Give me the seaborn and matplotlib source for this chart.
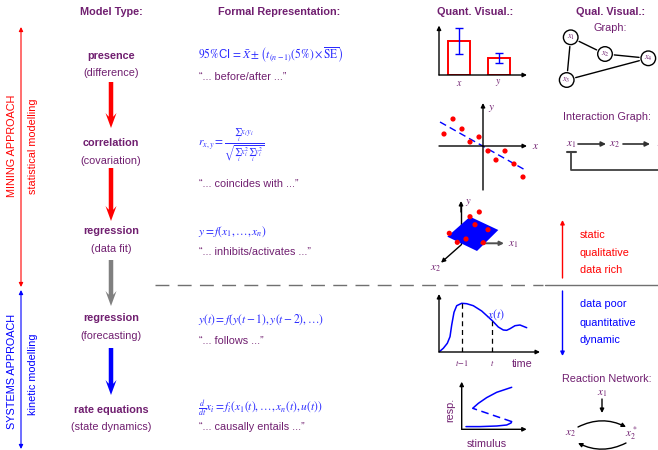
import numpy as np
import matplotlib
matplotlib.use("Agg")
import matplotlib.pyplot as plt
import seaborn as sns
from matplotlib.patches import Circle, Polygon

# ------------------------------------------------------------------ data
headers = ["Model Type:", "Formal Representation:", "Quant. Visual.:", "Qual. Visual.:"]
model_types = ["presence", "correlation", "regression", "regression", "rate equations"]
model_subs = ["(difference)", "(covariation)", "(data fit)", "(forecasting)", "(state dynamics)"]
formulas = [
    r"$95\%$CI$\, = \bar{X} \pm \left(t_{(n-1)}(5\%) \times \overline{\mathrm{SE}}\right)$",
    r"$r_{x,y} = \frac{\sum_i x_i y_i}{\sqrt{\sum_i x_i^2 \sum_i y_i^2}}$",
    r"$y = f(x_1,\ldots,x_n)$",
    r"$y(t) = f\left(y(t-1),y(t-2),\ldots\right)$",
    r"$\frac{d}{dt}x_i = f_i\left(x_1(t),\ldots,x_n(t),u(t)\right)$",
]
phrases = ["\u201c... before/after ...\u201d", "\u201c... coincides with ...\u201d",
           "\u201c... inhibits/activates ...\u201d", "\u201c... follows ...\u201d",
           "\u201c... causally entails ...\u201d"]
side_labels = ["MINING APPROACH", "statistical modelling", "SYSTEMS APPROACH", "kinetic modelling"]
static_words = ["static", "qualitative", "data rich"]
dynamic_words = ["data poor", "quantitative", "dynamic"]

# bar chart (presence)
bar_cats = ["x", "y"]
bar_vals = [2.0, 1.0]
bar_errs = [0.76, 0.27]

# scatter (correlation)
scatter_x = [-3.9, -3.0, -2.1, -1.3, -0.4, 0.5, 1.3, 2.2, 3.1, 4.0]
scatter_y = [1.2, 2.7, 1.7, 0.4, 0.9, -0.5, -1.4, -0.5, -1.8, -3.1]
fit_x = [-4.3, 4.4]
fit_y = [2.4, -2.5]

# 3D regression sketch (pixel positions of the sketch)
plane_x = [447.3, 470.0, 498.3, 477.0]
plane_y = [236.7, 216.7, 230.0, 251.0]
pts3d_x = [470.0, 479.3, 475.0, 449.3, 488.0, 457.3, 466.0, 483.3]
pts3d_y = [216.7, 212.0, 224.7, 233.3, 229.7, 242.3, 239.0, 242.7]

# time series (forecasting)
ts_t = [0.0, 0.43, 0.83, 1.1, 1.27, 1.5, 1.77, 2.27, 2.77, 3.43, 4.27, 5.33,
        5.93, 6.43, 6.77, 7.1, 7.6, 8.1, 8.77]
ts_x = [0.0, 0.37, 0.87, 1.53, 2.7, 3.97, 4.63, 4.87, 4.83, 4.63, 4.1, 3.13,
        2.5, 2.2, 2.17, 2.33, 2.63, 2.7, 2.43]
t_marks = [2.27, 5.33]
t_levels = [4.87, 3.13]
t_labels = [r"$t\!-\!1$", r"$t$"]

# bistable response (rate equations)
bi_low_s = [0.43, 1.83, 3.5, 4.5, 4.93, 5.0]
bi_low_r = [0.27, 0.27, 0.33, 0.43, 0.63, 0.77]
bi_mid_s = [5.0, 1.1]
bi_mid_r = [0.77, 2.1]
bi_up_s = [1.1, 1.67, 2.5, 3.5, 5.0]
bi_up_r = [2.1, 2.6, 3.17, 3.7, 4.2]

# graph
nodes = {"x_1": (570.7, 37.3), "x_2": (605.0, 54.0), "x_3": (566.7, 80.0), "x_4": (648.3, 58.3)}
edges = [("x_1", "x_2"), ("x_1", "x_3"), ("x_2", "x_4"), ("x_3", "x_4")]

# ------------------------------------------------------------------ style
sns.set_style("white")
plt.rcParams["font.family"] = ["Liberation Sans", "DejaVu Sans"]
plt.rcParams["mathtext.fontset"] = "stix"

PURPLE = "#701f70"
FBLUE = "#2a2aff"
RED = "#ff0000"
BLUE = "#0000ff"
FS = 7.8
W, H = 658, 450

fig = plt.figure(figsize=(W / 100, H / 100), dpi=100)
ax = fig.add_axes([0, 0, 1, 1])
ax.set_xlim(0, W)
ax.set_ylim(H, 0)
ax.axis("off")


def inset(x0, y0, x1, y1):
    a = fig.add_axes([x0 / W, 1 - y1 / H, (x1 - x0) / W, (y1 - y0) / H])
    a.axis("off")
    return a


def axis_arrow(a, p, q, coords="axes fraction", color="black"):
    a.annotate("", xy=q, xytext=p, xycoords=coords, textcoords=coords,
               arrowprops=dict(arrowstyle="-|>", color=color, lw=1.0,
                               mutation_scale=6, shrinkA=0, shrinkB=0),
               annotation_clip=False)


# ------------------------------------------------------------------ headers
for txt, xc in zip(headers, [111, 279, 475, 611]):
    ax.text(xc, 12, txt, ha="center", va="center", fontsize=FS, fontweight="bold", color=PURPLE)

# ------------------------------------------------------------------ left side arrows
ax.annotate("", xy=(21, 27), xytext=(21, 287),
            arrowprops=dict(arrowstyle="<|-|>", color=RED, lw=0.8, mutation_scale=6,
                            shrinkA=0, shrinkB=0))
ax.annotate("", xy=(21, 290), xytext=(21, 449),
            arrowprops=dict(arrowstyle="<|-|>", color=BLUE, lw=0.8, mutation_scale=6,
                            shrinkA=0, shrinkB=0))
for txt, (xx, yy, c) in zip(side_labels, [(12, 146, RED), (33, 146, RED),
                                          (12, 371, BLUE), (33, 374, BLUE)]):
    ax.text(xx, yy, txt, rotation=90, ha="center", va="center", fontsize=FS, color=c)

# ------------------------------------------------------------------ model types
mt_y = [55.7, 142.7, 230.7, 318.3, 410.0]
ms_y = [72.7, 160.7, 249.0, 335.7, 427.3]
for t, s, y1, y2 in zip(model_types, model_subs, mt_y, ms_y):
    ax.text(111, y1, t, ha="center", va="center", fontsize=FS, fontweight="bold", color=PURPLE)
    ax.text(111, y2, s, ha="center", va="center", fontsize=FS, color=PURPLE)

for (ya, yb), c in zip([(82, 128), (168, 221), (260, 306), (348, 395)],
                       [RED, RED, "#808080", BLUE]):
    ax.arrow(111, ya, 0, yb - ya, width=4.5, head_width=11, head_length=15,
             length_includes_head=True, fc=c, ec="none", overhang=0.25)

# ------------------------------------------------------------------ formulas
f_y = [55.0, 145.0, 231.7, 319.3, 408.5]
p_y = [77.3, 184.0, 252.3, 340.7, 427.3]
for f, ph, y1, y2 in zip(formulas, phrases, f_y, p_y):
    ax.text(198, y1, f, ha="left", va="center", fontsize=8.3, color=FBLUE)
    ax.text(199, y2, ph, ha="left", va="center", fontsize=FS, color=PURPLE)

# separator
ax.plot([155, 543], [284.5, 284.5], color="#707070", lw=1.0, dashes=(10, 6))
ax.plot([545, W], [284.5, 284.5], color="#707070", lw=1.0)

# ------------------------------------------------------------------ bar chart
a1 = inset(439, 27, 527, 75)
sns.barplot(x=bar_cats, y=bar_vals, ax=a1, fill=False, color=RED, width=0.56,
            linewidth=1.4, errorbar=None)
a1.errorbar(x=[0, 1], y=bar_vals, yerr=bar_errs, fmt="none", ecolor=BLUE,
            capsize=3, elinewidth=1.0, capthick=1.0)
a1.set_xlim(-0.51, 1.72)
a1.set_ylim(0, 2.82)
a1.axis("off")
axis_arrow(a1, (0, 0), (1, 0))
axis_arrow(a1, (0, 0), (0, 1.03))
for i, c in enumerate(bar_cats):
    a1.text(i, -0.45, "$" + c + "$", ha="center", va="center", fontsize=7, color=PURPLE,
            clip_on=False)

# ------------------------------------------------------------------ scatter
a2 = inset(439, 103, 527, 190)
a2.set_xlim(-4.4, 4.4)
a2.set_ylim(-4.4, 4.3)
axis_arrow(a2, (-4.4, 0), (4.4, 0), coords="data")
axis_arrow(a2, (0, -4.4), (0, 4.3), coords="data")
sns.lineplot(x=fit_x, y=fit_y, ax=a2, color=BLUE, lw=1.0, dashes=False, linestyle=(0, (5, 3)))
sns.scatterplot(x=scatter_x, y=scatter_y, ax=a2, color=RED, s=14, edgecolor="none", zorder=5)
a2.set_xlim(-4.4, 4.4)
a2.set_ylim(-4.4, 4.3)
a2.axis("off")
a2.text(0.9, 3.8, "$y$", fontsize=8, color=PURPLE, ha="center", va="center", clip_on=False)
a2.text(5.3, 0.0, "$x$", fontsize=8, color=PURPLE, ha="center", va="center", clip_on=False)

# ------------------------------------------------------------------ 3D regression sketch
ax.plot([461, 461], [244, 203], color="black", lw=1.0)
ax.annotate("", xy=(461, 201), xytext=(461, 212),
            arrowprops=dict(arrowstyle="-|>", color="black", lw=1, mutation_scale=6,
                            shrinkA=0, shrinkB=0))
ax.add_patch(Polygon(np.column_stack([plane_x, plane_y]), closed=True, fc=BLUE, ec="none", zorder=3))
ax.annotate("", xy=(441, 262.7), xytext=(461, 245),
            arrowprops=dict(arrowstyle="-|>", color="black", lw=1, mutation_scale=6,
                            shrinkA=0, shrinkB=0), zorder=2)
ax.annotate("", xy=(504, 243.3), xytext=(481, 243.3),
            arrowprops=dict(arrowstyle="-|>", color="#505050", lw=1.4, mutation_scale=6,
                            shrinkA=0, shrinkB=0), zorder=4)
ax.scatter(pts3d_x, pts3d_y, s=14, color=RED, edgecolor="none", zorder=5)
ax.text(468, 202, "$y$", fontsize=7.5, color=PURPLE, ha="center", va="center")
ax.text(513, 245, "$x_1$", fontsize=8, color=PURPLE, ha="center", va="center")
ax.text(435, 269, "$x_2$", fontsize=8, color=PURPLE, ha="center", va="center")

# ------------------------------------------------------------------ time series
a3 = inset(439, 294, 540, 352)
sns.lineplot(x=ts_t, y=ts_x, ax=a3, color=BLUE, lw=1.1)
a3.vlines(t_marks, 0, t_levels, colors="black", linestyles=(0, (4, 3)), lw=0.9)
a3.set_xlim(0, 10.1)
a3.set_ylim(0, 5.8)
a3.axis("off")
axis_arrow(a3, (0, 0), (1, 0))
axis_arrow(a3, (0, 0), (0, 1))
for tm, lb in zip(t_marks, t_labels):
    a3.text(tm, -1.1, lb, fontsize=6, color=PURPLE, ha="center", va="center", clip_on=False)
a3.text(8.27, -1.23, "time", fontsize=FS, color=PURPLE, ha="center", va="center", clip_on=False)
a3.text(5.7, 3.77, "$x(t)$", fontsize=8.5, color=FBLUE, ha="center", va="center", clip_on=False)

# ------------------------------------------------------------------ bistable response
a4 = inset(461.7, 381.7, 526.7, 429.3)
sns.lineplot(x=bi_low_s, y=bi_low_r, ax=a4, color=BLUE, lw=1.1, sort=False)
sns.lineplot(x=bi_mid_s, y=bi_mid_r, ax=a4, color=BLUE, lw=1.1, sort=False,
             linestyle=(0, (5, 3)))
sns.lineplot(x=bi_up_s, y=bi_up_r, ax=a4, color=BLUE, lw=1.1, sort=False)
a4.set_xlim(0, 6.5)
a4.set_ylim(0, 4.76)
a4.axis("off")
axis_arrow(a4, (0, 0), (1, 0))
axis_arrow(a4, (0, 0), (0, 1))
a4.text(-1.1, 1.93, "resp.", rotation=90, fontsize=FS, color=PURPLE, ha="center", va="center",
        clip_on=False)
a4.text(2.5, -1.47, "stimulus", fontsize=FS, color=PURPLE, ha="center", va="center", clip_on=False)

# ------------------------------------------------------------------ graph
ax.text(610, 28, "Graph:", fontsize=FS, color=PURPLE, ha="center", va="center")
R = 7.3
for name, (cx, cy) in nodes.items():
    ax.add_patch(Circle((cx, cy), R, fc="white", ec="black", lw=1.0))
    ax.text(cx, cy, "$" + name + "$", fontsize=6, color=PURPLE, ha="center", va="center")
for p, q in edges:
    P, Q = np.array(nodes[p]), np.array(nodes[q])
    d = (Q - P) / np.linalg.norm(Q - P)
    A, B = P + d * (R + 2), Q - d * (R + 2)
    ax.plot([A[0], B[0]], [A[1], B[1]], color="black", lw=1.0)

# interaction graph
ax.text(563, 117, "Interaction Graph:", fontsize=FS, color=PURPLE, ha="left", va="center")
for lbl, xx in zip(["$x_1$", "$x_2$", "$x_3$"], [570.7, 614.0, 662.0]):
    ax.text(xx, 145, lbl, fontsize=8, color=PURPLE, ha="center", va="center")
for xa, xb in [(578, 606), (623, 650)]:
    ax.annotate("", xy=(xb, 144), xytext=(xa, 144),
                arrowprops=dict(arrowstyle="-|>", color="#303030", lw=1.2, mutation_scale=7,
                                shrinkA=0, shrinkB=0))
ax.plot([566.7, 575.7], [152.3, 152.3], color="#404040", lw=1.5)
ax.plot([571, 571, 660], [152.3, 170, 170], color="#404040", lw=1.3)

# static / dynamic
ax.annotate("", xy=(562.5, 220), xytext=(562.5, 278),
            arrowprops=dict(arrowstyle="-|>", color=RED, lw=1.0, mutation_scale=6,
                            shrinkA=0, shrinkB=0))
ax.annotate("", xy=(562.5, 356), xytext=(562.5, 291),
            arrowprops=dict(arrowstyle="-|>", color=BLUE, lw=1.0, mutation_scale=6,
                            shrinkA=0, shrinkB=0))
for w, yy in zip(static_words, [235, 252.5, 270]):
    ax.text(580, yy, w, fontsize=FS, color=RED, ha="left", va="center")
for w, yy in zip(dynamic_words, [304.3, 322.7, 340]):
    ax.text(580, yy, w, fontsize=FS, color=BLUE, ha="left", va="center")

# reaction network
ax.text(562, 379, "Reaction Network:", fontsize=FS, color=PURPLE, ha="left", va="center")
ax.text(601.7, 393.3, "$x_1$", fontsize=8, color=PURPLE, ha="center", va="center")
ax.text(570.7, 434, "$x_2$", fontsize=8, color=PURPLE, ha="center", va="center")
ax.text(631.7, 434, "$x_2^*$", fontsize=8, color=PURPLE, ha="center", va="center")
ax.annotate("", xy=(602, 413), xytext=(602, 399),
            arrowprops=dict(arrowstyle="-|>", color="black", lw=1.0, mutation_scale=6,
                            shrinkA=0, shrinkB=0))
ax.annotate("", xy=(626, 427), xytext=(578, 427),
            arrowprops=dict(arrowstyle="-|>", color="black", lw=1.0, mutation_scale=6,
                            shrinkA=0, shrinkB=0, connectionstyle="arc3,rad=-0.25"))
ax.annotate("", xy=(578, 443), xytext=(626, 443),
            arrowprops=dict(arrowstyle="-|>", color="black", lw=1.0, mutation_scale=6,
                            shrinkA=0, shrinkB=0, connectionstyle="arc3,rad=-0.25"))

fig.savefig("out.png", dpi=100)
